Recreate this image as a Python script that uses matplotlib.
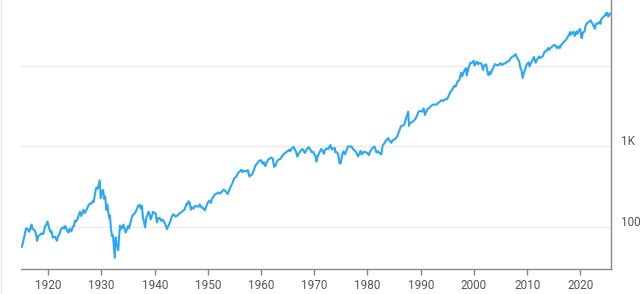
import matplotlib
matplotlib.use("Agg")
import matplotlib.pyplot as plt
from matplotlib.lines import Line2D
from matplotlib import transforms as mtransforms
from matplotlib.ticker import NullLocator, FixedLocator, NullFormatter

plt.rcParams['font.family'] = ['Roboto', 'DejaVu Sans']

years = [
    1915.0, 1915.2, 1915.4, 1915.6, 1915.8, 1916.0, 1916.2, 1916.4, 1916.6, 1916.85,
    1917.0, 1917.2, 1917.45, 1917.65, 1917.9, 1918.1, 1918.4, 1918.7, 1918.9, 1919.1,
    1919.4, 1919.6, 1919.85, 1920.1, 1920.4, 1920.6, 1920.85, 1921.0, 1921.3, 1921.6,
    1921.85, 1922.1, 1922.35, 1922.6, 1922.8, 1923.0, 1923.2, 1923.5, 1923.8, 1924.0,
    1924.35, 1924.6, 1924.85, 1925.0, 1925.25, 1925.5, 1925.75, 1925.95, 1926.2, 1926.6,
    1926.85, 1927.0, 1927.3, 1927.6, 1927.9, 1928.1, 1928.4, 1928.5, 1928.7, 1928.95,
    1929.1, 1929.3, 1929.5, 1929.67, 1929.85, 1929.95, 1930.1, 1930.3, 1930.5, 1930.7,
    1930.9, 1931.1, 1931.3, 1931.45, 1931.6, 1931.75, 1931.95, 1932.15, 1932.35, 1932.5,
    1932.68, 1932.8, 1932.95, 1933.15, 1933.3, 1933.5, 1933.7, 1933.9, 1934.1, 1934.35,
    1934.55, 1934.8, 1935.0, 1935.2, 1935.5, 1935.8, 1936.0, 1936.3, 1936.6, 1936.85,
    1937.15, 1937.4, 1937.6, 1937.8, 1937.95, 1938.2, 1938.4, 1938.6, 1938.85, 1939.0,
    1939.25, 1939.5, 1939.7, 1939.95, 1940.2, 1940.4, 1940.7, 1940.95, 1941.2, 1941.5,
    1941.8, 1941.95, 1942.3, 1942.6, 1942.95, 1943.2, 1943.5, 1943.8, 1943.95, 1944.3,
    1944.6, 1944.95, 1945.3, 1945.6, 1945.95, 1946.1, 1946.35, 1946.6, 1946.8, 1946.95,
    1947.3, 1947.6, 1947.95, 1948.3, 1948.45, 1948.8, 1948.95, 1949.45, 1949.7, 1949.95,
    1950.3, 1950.55, 1950.8, 1950.95, 1951.3, 1951.6, 1951.95, 1952.3, 1952.6, 1952.95,
    1953.3, 1953.7, 1953.95, 1954.3, 1954.6, 1954.95, 1955.3, 1955.6, 1955.95, 1956.3,
    1956.5, 1956.75, 1956.95, 1957.3, 1957.5, 1957.8, 1957.95, 1958.3, 1958.6, 1958.95,
    1959.3, 1959.6, 1959.95, 1960.3, 1960.5, 1960.8, 1960.95, 1961.3, 1961.6, 1961.95,
    1962.2, 1962.45, 1962.8, 1962.95, 1963.3, 1963.6, 1963.95, 1964.3, 1964.6, 1964.95,
    1965.3, 1965.45, 1965.7, 1965.95, 1966.1, 1966.4, 1966.6, 1966.8, 1966.95, 1967.3,
    1967.7, 1967.95, 1968.2, 1968.5, 1968.9, 1969.2, 1969.5, 1969.8, 1969.95, 1970.2,
    1970.4, 1970.6, 1970.95, 1971.3, 1971.5, 1971.85, 1971.95, 1972.3, 1972.6, 1972.95,
    1973.05, 1973.3, 1973.6, 1973.85, 1973.95, 1974.2, 1974.5, 1974.75, 1974.95, 1975.3,
    1975.5, 1975.75, 1975.95, 1976.3, 1976.7, 1976.95, 1977.3, 1977.6, 1977.95, 1978.2,
    1978.5, 1978.7, 1978.85, 1978.95, 1979.3, 1979.6, 1979.95, 1980.25, 1980.5, 1980.95,
    1981.3, 1981.7, 1981.95, 1982.4, 1982.6, 1982.85, 1982.95, 1983.3, 1983.55, 1983.9,
    1984.2, 1984.5, 1984.7, 1984.95, 1985.3, 1985.6, 1985.95, 1986.3, 1986.6, 1986.95,
    1987.3, 1987.65, 1987.8, 1987.95, 1988.3, 1988.6, 1988.95, 1989.3, 1989.6, 1989.95,
    1990.3, 1990.55, 1990.8, 1990.95, 1991.3, 1991.6, 1991.95, 1992.3, 1992.6, 1992.95,
    1993.3, 1993.6, 1993.95, 1994.2, 1994.6, 1994.95, 1995.3, 1995.6, 1995.95, 1996.3,
    1996.55, 1996.95, 1997.25, 1997.6, 1997.8, 1997.95, 1998.3, 1998.55, 1998.65, 1998.95,
    1999.3, 1999.6, 1999.95, 2000.15, 2000.3, 2000.6, 2000.8, 2000.95, 2001.3, 2001.45,
    2001.7, 2001.95, 2002.3, 2002.5, 2002.75, 2002.95, 2003.15, 2003.5, 2003.95, 2004.3,
    2004.6, 2004.95, 2005.3, 2005.6, 2005.95, 2006.3, 2006.6, 2006.95, 2007.3, 2007.6,
    2007.8, 2007.95, 2008.2, 2008.5, 2008.75, 2008.95, 2009.15, 2009.5, 2009.95, 2010.3,
    2010.45, 2010.95, 2011.3, 2011.6, 2011.95, 2012.3, 2012.45, 2012.95, 2013.3, 2013.6,
    2013.95, 2014.1, 2014.5, 2014.95, 2015.3, 2015.6, 2015.95, 2016.1, 2016.5, 2016.95,
    2017.3, 2017.6, 2017.95, 2018.1, 2018.2, 2018.7, 2018.95, 2019.3, 2019.45, 2019.6,
    2019.95, 2020.1, 2020.25, 2020.5, 2020.8, 2020.95, 2021.3, 2021.6, 2021.95, 2022.3,
    2022.5, 2022.75, 2022.95, 2023.3, 2023.6, 2023.8, 2023.95, 2024.3, 2024.6, 2024.9,
    2024.95, 2025.1, 2025.25, 2025.45, 2025.6,
]

values = [
    57, 63, 72, 83, 96, 97, 92, 88, 95, 108,
    96, 94, 92, 84, 68, 78, 80, 84, 82, 84,
    104, 106, 118, 100, 88, 90, 74, 76, 76, 68,
    78, 82, 94, 98, 100, 96, 104, 92, 86, 96,
    89, 102, 104, 121, 118, 128, 142, 156, 138, 164,
    150, 156, 170, 190, 198, 196, 212, 205, 240, 300,
    310, 300, 340, 381, 230, 248, 270, 290, 225, 240,
    165, 190, 150, 130, 140, 100, 78, 80, 56, 42,
    75, 62, 60, 52, 77, 105, 96, 98, 108, 96,
    86, 95, 104, 98, 118, 140, 144, 150, 165, 182,
    190, 170, 185, 130, 121, 100, 130, 140, 155, 150,
    125, 140, 155, 150, 148, 115, 130, 131, 120, 125,
    115, 111, 95, 105, 119, 135, 145, 138, 136, 140,
    148, 152, 160, 165, 193, 190, 210, 200, 165, 177,
    170, 184, 181, 180, 192, 175, 177, 162, 182, 200,
    215, 200, 225, 235, 255, 260, 269, 262, 275, 292,
    280, 258, 281, 320, 350, 404, 420, 465, 488, 515,
    480, 500, 500, 490, 510, 425, 436, 450, 500, 584,
    620, 660, 679, 610, 640, 570, 616, 680, 710, 731,
    700, 560, 590, 652, 690, 700, 763, 810, 840, 874,
    910, 870, 930, 969, 990, 900, 850, 750, 786, 860,
    930, 905, 830, 900, 980, 930, 850, 860, 800, 780,
    650, 740, 839, 930, 890, 810, 890, 950, 925, 1020,
    1040, 920, 950, 960, 851, 850, 800, 620, 616, 820,
    870, 800, 852, 1000, 990, 1005, 930, 890, 831, 750,
    820, 880, 800, 805, 860, 850, 838, 780, 870, 964,
    1000, 840, 875, 810, 800, 1030, 1047, 1130, 1200, 1270,
    1160, 1110, 1200, 1212, 1260, 1340, 1547, 1790, 1800, 1896,
    2300, 2700, 1800, 1939, 2000, 2050, 2169, 2400, 2700, 2753,
    2700, 2950, 2450, 2634, 2900, 3000, 3169, 3300, 3300, 3301,
    3450, 3600, 3754, 3650, 3850, 3834, 4300, 4750, 5117, 5600,
    5500, 6448, 6600, 8200, 7400, 7908, 9000, 9300, 7550, 9181,
    10800, 10800, 11497, 10100, 10700, 11200, 10400, 10787, 10700, 10500,
    8850, 10021, 10400, 8700, 7600, 8342, 7900, 9000, 10454, 10200,
    10100, 10783, 10200, 10600, 10718, 11300, 11400, 12463, 13000, 13300,
    13900, 13265, 12300, 11400, 9300, 8776, 7062, 8500, 10428, 11000,
    9800, 11578, 12800, 10900, 12218, 13000, 12400, 13104, 15000, 15100,
    16577, 15700, 16800, 17823, 18000, 16500, 17425, 16466, 18400, 19763,
    20900, 22400, 24719, 26100, 24100, 26400, 23327, 26500, 24800, 26400,
    28538, 25400, 21900, 25800, 26500, 30606, 33800, 34900, 36338, 33000,
    31000, 28700, 33147, 33000, 35000, 33000, 37690, 39800, 41500, 44900,
    42544, 44500, 40700, 42300, 44100,
]

x_ticks = [1920, 1930, 1940, 1950, 1960, 1970, 1980, 1990, 2000, 2010, 2020]
y_grid = [100, 1000, 10000]
y_labels = {100: "100", 1000: "1K"}

fig = plt.figure(figsize=(6.4, 2.94), dpi=100)
ax = fig.add_axes([21 / 640, 1 - 269.3 / 294, (611 - 21) / 640, 269.3 / 294])

ax.plot(years, values, color="#2aa8f5", lw=1.5, solid_joinstyle="round")

ax.set_yscale("log")
ax.set_xlim(1914.87, 2025.77)
ax.set_ylim(30.2, 65000)

ax.yaxis.set_major_locator(FixedLocator(y_grid))
ax.yaxis.set_minor_locator(NullLocator())
ax.yaxis.set_major_formatter(NullFormatter())
ax.yaxis.set_minor_formatter(NullFormatter())
ax.tick_params(axis="y", length=0)
ax.grid(axis="y", color="#ececec", lw=1)
ax.set_axisbelow(True)

ax.set_xticks(x_ticks)
ax.set_xticklabels([str(t) for t in x_ticks])
ax.tick_params(axis="x", length=4, width=1, color="#888888", labelsize=8.5,
               labelcolor="#555555", pad=3)

for s in ["top", "left"]:
    ax.spines[s].set_visible(False)
ax.spines["bottom"].set_color("#888888")
ax.spines["right"].set_color("#888888")
ax.spines["bottom"].set_linewidth(1)
ax.spines["right"].set_linewidth(1)

trans = mtransforms.offset_copy(ax.get_yaxis_transform(), fig=fig, x=7, y=3.5, units="points")
for v, lab in y_labels.items():
    ax.text(1.0, v, lab, transform=trans, ha="left", va="center",
            fontsize=8.5, color="#555555")

fig.add_artist(Line2D([0.5 / 640, 0.5 / 640], [0, 1], color="#e6e6e6", lw=1,
                      transform=fig.transFigure))

fig.savefig("out.png", dpi=100)
